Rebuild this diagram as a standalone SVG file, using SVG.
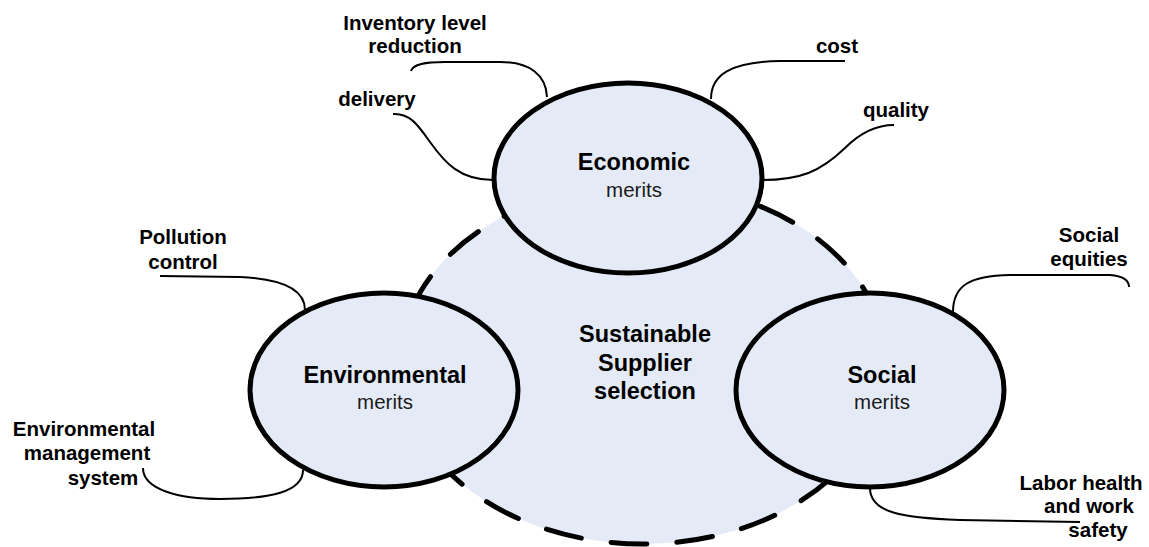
<svg xmlns="http://www.w3.org/2000/svg" width="1149" height="547" viewBox="0 0 1149 547">
  <style>
    .hub { fill: #E5EBF6; stroke: #000; stroke-width: 5; stroke-dasharray: 36 30; stroke-linecap: round; }
    .pillar { fill: #E5EBF6; stroke: #000; stroke-width: 5; }
    .link { fill: none; stroke: #000; stroke-width: 2; }
    text { font-family: "Liberation Sans", Arial, sans-serif; fill: #000; }
    .title { font-size: 23.5px; font-weight: bold; text-anchor: middle; }
    .sub { font-size: 20.5px; text-anchor: middle; fill: #1a1a1a; }
    .label { font-size: 20.5px; font-weight: bold; text-anchor: middle; }
  </style>

  <!-- central dashed hub -->
  <g id="hub">
    <ellipse class="hub" cx="643" cy="364" rx="243" ry="180"/>
    <text class="title" x="645" y="342">Sustainable</text>
    <text class="title" x="645" y="371">Supplier</text>
    <text class="title" x="645" y="399">selection</text>
  </g>

  <!-- leader lines from each pillar to its criteria -->
  <g id="connectors">
    <path class="link" d="M411,71 C413,64 425,62 445,62 L500,62 C530,62 546,75 547,97"/>
    <path class="link" d="M393,114 C410,113 418,125 430,142 C445,163 460,180 493,180"/>
    <path class="link" d="M711,99 C711,75 730,62 780,61 L845,61"/>
    <path class="link" d="M762,180 C800,180 820,172 845,148 C860,133 875,125 894,125"/>
    <path class="link" d="M160,276 L240,277 C285,279 305,290 305,310"/>
    <path class="link" d="M143,468 C143,490 180,499 220,499 C270,499 303,492 303,470"/>
    <path class="link" d="M953,312 C953,285 970,276 1010,275 L1110,275 C1122,276 1129,280 1129,287"/>
    <path class="link" d="M870,488 C870,512 900,518 960,520 L1080,522"/>
  </g>

  <g id="economic">
    <ellipse class="pillar" cx="628" cy="178" rx="134" ry="95"/>
    <text class="title" x="634" y="170">Economic</text>
    <text class="sub" x="634" y="197">merits</text>
  </g>

  <g id="environmental">
    <ellipse class="pillar" cx="384" cy="390" rx="134" ry="97"/>
    <text class="title" x="385" y="383">Environmental</text>
    <text class="sub" x="385" y="409">merits</text>
  </g>

  <g id="social">
    <ellipse class="pillar" cx="870" cy="390" rx="134" ry="97"/>
    <text class="title" x="882" y="383">Social</text>
    <text class="sub" x="882" y="409">merits</text>
  </g>

  <!-- criteria labels -->
  <g id="label-inventory">
    <text class="label" x="415" y="30">Inventory level</text>
    <text class="label" x="415" y="53">reduction</text>
  </g>
  <g id="label-delivery">
    <text class="label" x="377" y="106">delivery</text>
  </g>
  <g id="label-cost">
    <text class="label" x="837" y="53">cost</text>
  </g>
  <g id="label-quality">
    <text class="label" x="896" y="117">quality</text>
  </g>
  <g id="label-pollution">
    <text class="label" x="183" y="244">Pollution</text>
    <text class="label" x="183" y="269">control</text>
  </g>
  <g id="label-ems">
    <text class="label" x="84" y="436">Environmental</text>
    <text class="label" x="87" y="460">management</text>
    <text class="label" x="103" y="485">system</text>
  </g>
  <g id="label-equities">
    <text class="label" x="1089" y="242">Social</text>
    <text class="label" x="1089" y="266">equities</text>
  </g>
  <g id="label-labor">
    <text class="label" x="1081" y="490">Labor health</text>
    <text class="label" x="1089" y="513">and work</text>
    <text class="label" x="1098" y="537">safety</text>
  </g>
</svg>
